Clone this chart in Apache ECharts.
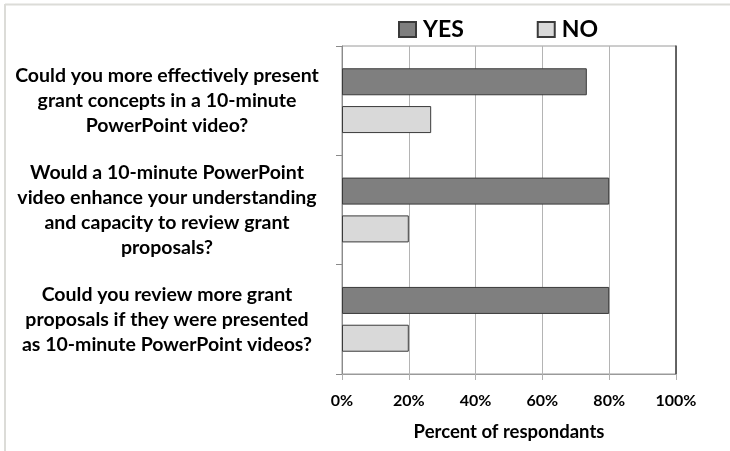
<!DOCTYPE html>
<html>
<head>
<meta charset="utf-8">
<script src="https://cdn.jsdelivr.net/npm/echarts@6/dist/echarts.min.js"></script>
<style>
  html, body { margin: 0; padding: 0; background: #fff; }
  #chart { width: 730px; height: 451px; }
</style>
</head>
<body>
<div id="chart"></div>
<script>
const categories = [
  "Could you more effectively present\ngrant concepts in a 10-minute\nPowerPoint video?",
  "Would a 10-minute PowerPoint\nvideo enhance your understanding\nand capacity to review grant\nproposals?",
  "Could you review more grant\nproposals if they were presented\nas 10-minute PowerPoint videos?"
];
const yesValues = [73.3, 80, 80];
const noValues = [26.7, 20, 20];
const seriesNames = ["YES", "NO"];
const axisTitle = "Percent of respondants";

const FONT = "Lato";
const chart = echarts.init(document.getElementById('chart'), null, { renderer: 'canvas' });
chart.setOption({
  animation: false,
  backgroundColor: '#ffffff',
  textStyle: { fontFamily: FONT },
  graphic: [
    { type: 'line', shape: { x1: 5, y1: 4.5, x2: 730, y2: 4.5 }, style: { stroke: '#dcdcd8', lineWidth: 2 } },
    { type: 'line', shape: { x1: 5, y1: 4, x2: 5, y2: 451 }, style: { stroke: '#dcdcd8', lineWidth: 2 } }
  ],
  legend: {
    data: seriesNames,
    left: 393,
    top: 13,
    icon: 'rect',
    itemWidth: 17,
    itemHeight: 15,
    itemGap: 73,
    textStyle: { fontFamily: FONT, fontWeight: 'bold', fontSize: 23, color: '#000', padding: [0, 0, 0, 2] }
  },
  grid: {
    left: 342, right: 54, top: 46, bottom: 77,
    show: true, borderColor: '#9a9a9a', borderWidth: 1
  },
  xAxis: {
    type: 'value',
    min: 0, max: 100, interval: 20,
    axisLabel: { formatter: '{value}%', fontFamily: FONT, fontWeight: 'bold', fontSize: 16, color: '#000', margin: 19 },
    axisLine: { show: true, lineStyle: { color: '#9a9a9a' } },
    axisTick: { show: true, length: 6, lineStyle: { color: '#b0b0b0' } },
    splitLine: { show: true, lineStyle: { color: '#b4b4b4', width: 1 } },
    name: axisTitle,
    nameLocation: 'middle',
    nameGap: 49,
    nameTextStyle: { fontFamily: FONT, fontWeight: 'bold', fontSize: 18.5, color: '#000' }
  },
  yAxis: [
    {
      type: 'category',
      data: categories,
      inverse: true,
      axisLine: { show: true, lineStyle: { color: '#8a8a8a' } },
      axisTick: { show: true, length: 6, lineStyle: { color: '#8a8a8a' } },
      axisLabel: {
        align: 'center', margin: 175,
        fontFamily: FONT, fontWeight: 'bold', fontSize: 19.5, lineHeight: 25, color: '#000'
      }
    },
    {
      type: 'category',
      data: categories,
      inverse: true,
      position: 'right',
      axisLine: { show: true, lineStyle: { color: '#444', width: 1.5 } },
      axisTick: { show: false },
      axisLabel: { show: false }
    }
  ],
  series: [
    {
      name: seriesNames[0], type: 'bar', data: yesValues,
      barWidth: 27, barGap: '40%',
      itemStyle: { color: '#7f7f7f', borderColor: '#3a3a3a', borderWidth: 1 }
    },
    {
      name: seriesNames[1], type: 'bar', data: noValues,
      barWidth: 27, barGap: '40%',
      itemStyle: { color: '#d9d9d9', borderColor: '#3a3a3a', borderWidth: 1 }
    }
  ]
});
</script>
</body>
</html>
